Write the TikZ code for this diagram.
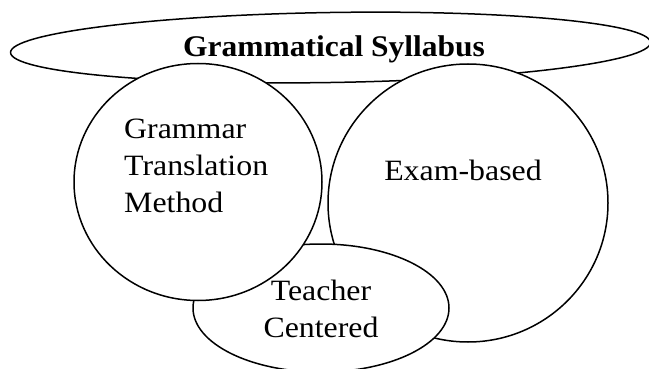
\documentclass[tikz,border=0pt]{standalone}
\usepackage{fontspec}
\setmainfont{Liberation Serif}[FakeStretch=1.08]
\newfontfamily\headfont{Liberation Serif}[FakeStretch=1.05]
\usetikzlibrary{shapes.geometric}
\begin{document}
\begin{tikzpicture}[
  x=1pt, y=-1pt,
  bubble/.style={draw, ellipse, fill=white, line width=1.5pt, inner sep=0},
  heading/.style={font=\headfont\bfseries\fontsize{30}{36}\selectfont, anchor=base, inner sep=0},
  words/.style={font=\fontsize{29.5}{37}\selectfont, anchor=base, inner sep=0}
]
\useasboundingbox (0,0) rectangle (649,369);
\node[bubble, minimum width=640pt, minimum height=70pt, rotate=0.9] (syllabus) at (330.5,47.5) {};
\node[bubble, minimum width=280pt, minimum height=278pt] (exam)    at (468,203) {};
\node[bubble, minimum width=256pt, minimum height=128pt] (teacher) at (321,308) {};
\node[bubble, minimum width=248pt, minimum height=237pt] (gtm)     at (198,182) {};

\node[heading] (syllabus-text) at (334,57) {Grammatical Syllabus};
\node[words, anchor=base west, align=left] (gtm-text) at (124,212) {Grammar\\Translation\\Method};
\node[words] (exam-text) at (463,181) {Exam-based};
\node[words, align=center] (teacher-text) at (321,337) {Teacher\\Centered};
\end{tikzpicture}
\end{document}
